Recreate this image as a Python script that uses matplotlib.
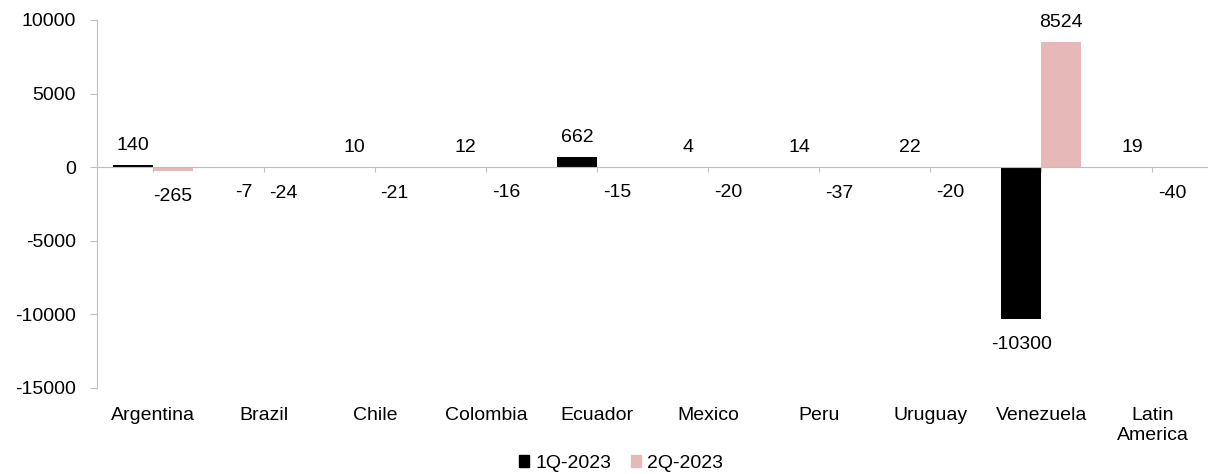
import matplotlib
matplotlib.use("Agg")
import matplotlib.pyplot as plt
import matplotlib.transforms as mtransforms
from matplotlib.patches import Patch
import numpy as np

plt.rcParams["font.family"] = ["Liberation Sans", "DejaVu Sans"]
plt.rcParams["axes.unicode_minus"] = False

countries = ["Argentina", "Brazil", "Chile", "Colombia", "Ecuador", "Mexico",
             "Peru", "Uruguay", "Venezuela", "Latin\nAmerica"]
q1_2023 = [140, -7, 10, 12, 662, 4, 14, 22, -10300, 19]
q2_2023 = [-265, -24, -21, -16, -15, -20, -37, -20, 8524, -40]
y_ticks = [10000, 5000, 0, -5000, -10000, -15000]

C1 = "#000000"
C2 = "#E6B9B8"
GREY = "#BFBFBF"
FS = 14

fig = plt.figure(figsize=(12.08, 4.74), dpi=100)
ax = fig.add_axes([97 / 1208, 1 - 388 / 474, (1208 - 97) / 1208, (388 - 20) / 474])

x = np.arange(len(countries))
w = 0.36
ax.bar(x - w / 2, q1_2023, w, color=C1, label="1Q-2023")
ax.bar(x + w / 2, q2_2023, w, color=C2, label="2Q-2023")

ax.set_xlim(-0.5, len(countries) - 0.5)
ax.set_ylim(-15000, 10000)
ax.set_yticks(y_ticks)
ax.tick_params(axis="y", length=5, color=GREY, labelsize=FS, pad=10)

for s in ["top", "right"]:
    ax.spines[s].set_visible(False)
ax.spines["left"].set_color(GREY)
ax.spines["bottom"].set_color(GREY)
ax.spines["bottom"].set_position(("data", 0))
ax.set_xticks(x)
ax.tick_params(axis="x", length=3.6, color=GREY, labelbottom=False)

# value labels
off = mtransforms.offset_copy
for xs, vals in ((x - w / 2, q1_2023), (x + w / 2, q2_2023)):
    for xi, v in zip(xs, vals):
        if v >= 0:
            tr = off(ax.transData, fig=fig, x=0, y=11, units="dots")
            ax.text(xi, v, str(v), transform=tr, ha="center", va="bottom", fontsize=FS)
        else:
            tr = off(ax.transData, fig=fig, x=0, y=-17, units="dots")
            ax.text(xi, v, str(v), transform=tr, ha="center", va="top", fontsize=FS)

# category labels at the bottom
bt = mtransforms.blended_transform_factory(ax.transData, ax.transAxes)
for xi, name in zip(x, countries):
    ax.text(xi, -0.052, name, transform=bt, ha="center", va="top", fontsize=FS,
            linespacing=1.25)

handles = [Patch(color=C1, label="1Q-2023"), Patch(color=C2, label="2Q-2023")]
fig.legend(handles=handles, loc="center", bbox_to_anchor=(0.514, 0.023), ncol=2,
           frameon=False, fontsize=FS, handlelength=0.55, handleheight=0.55,
           handletextpad=0.3, columnspacing=1.0, borderpad=0)

fig.savefig("out.png", dpi=100)
